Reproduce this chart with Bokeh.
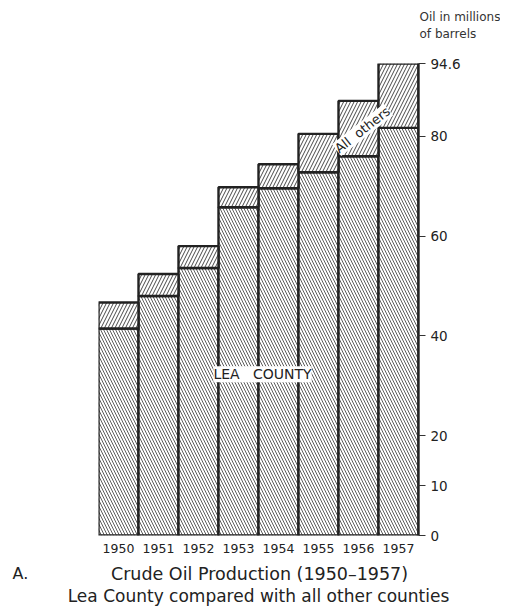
from bokeh.plotting import figure
from bokeh.models import Range1d, LinearAxis, FixedTicker, Label, ColumnDataSource
from bokeh.layouts import column
from bokeh.embed import file_html
from bokeh.resources import INLINE

years = ["1950", "1951", "1952", "1953", "1954", "1955", "1956", "1957"]
lea_county = [41.5, 48.0, 53.6, 65.8, 69.6, 72.8, 76.0, 81.7]
total = [46.7, 52.4, 58.0, 69.8, 74.4, 80.5, 87.1, 94.6]
all_others = [t - l for t, l in zip(total, lea_county)]
y_ticks = [0, 10, 20, 40, 60, 80, 94.6]
y_tick_labels = {0: "0", 10: "10", 20: "20", 40: "40", 60: "60", 80: "80", 94.6: "94.6"}

FONT = "DejaVu Sans"
INK = "#222222"
W = 500
idx = list(range(len(years)))


def no_align(f):
    if "frame_align" in f.properties():
        f.frame_align = False


def blank(h):
    f = figure(width=W, height=h, output_backend="svg", toolbar_location=None,
               x_range=Range1d(0, W), y_range=Range1d(h, 0),
               x_axis_type=None, y_axis_type=None, min_border=0)
    f.outline_line_color = None
    f.grid.visible = False
    no_align(f)
    return f


# ---- top: unit note ----
top = blank(55)
top.add_layout(Label(x=419, y=16, text="Oil in millions", text_align="left", text_baseline="middle",
                     text_font=FONT, text_font_size="12px", text_color="#333333"))
top.add_layout(Label(x=419, y=33, text="of barrels", text_align="left", text_baseline="middle",
                     text_font=FONT, text_font_size="12px", text_color="#333333"))

# ---- main chart ----
src = ColumnDataSource(dict(x=idx, lea=lea_county, total=total, others=all_others))

p = figure(width=W, height=505, output_backend="svg", toolbar_location=None,
           x_range=Range1d(-0.5, 7.5), y_range=Range1d(0, 94.6),
           min_border_left=98, min_border_right=82, min_border_top=8, min_border_bottom=25)
p.outline_line_color = None
p.grid.visible = False
p.yaxis.visible = False
no_align(p)

p.vbar(x="x", top="lea", bottom=0, width=1.0, source=src,
       fill_color="white", line_color=INK, line_width=2.4,
       hatch_pattern="left_diagonal_line", hatch_color="#333333", hatch_scale=6, hatch_weight=0.8)
p.vbar(x="x", top="total", bottom="lea", width=1.0, source=src,
       fill_color="white", line_color=INK, line_width=2.4,
       hatch_pattern="right_diagonal_line", hatch_color="#333333", hatch_scale=7, hatch_weight=0.9)

xa = p.xaxis[0]
xa.ticker = FixedTicker(ticks=idx)
xa.major_label_overrides = {i: y for i, y in zip(idx, years)}
xa.axis_line_color = None
xa.major_tick_line_color = None
xa.minor_tick_line_color = None
xa.major_label_standoff = 2
xa.major_label_text_font = FONT
xa.major_label_text_font_size = "12.5px"
xa.major_label_text_color = INK

ya = LinearAxis(ticker=FixedTicker(ticks=y_ticks), bounds=(0, 94.6))
ya.major_label_overrides = y_tick_labels
ya.axis_line_color = INK
ya.axis_line_width = 2.4
ya.major_tick_in = 0
ya.major_tick_out = 7
ya.major_tick_line_color = "#333333"
ya.minor_tick_line_color = None
ya.major_label_standoff = 5
ya.major_label_text_font = FONT
ya.major_label_text_font_size = "13.5px"
ya.major_label_text_color = INK
p.add_layout(ya, "right")

p.add_layout(Label(x=3.6, y=32.3, text="LEA\u00a0\u00a0\u00a0COUNTY", text_align="center", text_baseline="middle",
                   text_font=FONT, text_font_size="14px", text_color=INK,
                   background_fill_color="white", border_line_color=None))
p.add_layout(Label(x=6.1, y=81.3, text="All\u00a0\u00a0others", text_align="center", text_baseline="middle",
                   angle=38, angle_units="deg",
                   text_font=FONT, text_font_size="13px", text_color=INK,
                   background_fill_color="white", border_line_color=None))

# ---- bottom: captions ----
bot = blank(47)
bot.add_layout(Label(x=12, y=13, text="A.", text_align="left", text_baseline="middle",
                     text_font=FONT, text_font_size="16px", text_color=INK))
bot.add_layout(Label(x=259, y=13, text="Crude Oil Production (1950\u20131957)", text_align="center",
                     text_baseline="middle", text_font=FONT, text_font_size="17.5px", text_color=INK))
bot.add_layout(Label(x=258, y=35, text="Lea County compared with all other counties", text_align="center",
                     text_baseline="middle", text_font=FONT, text_font_size="17px", text_color=INK))

layout = column(top, p, bot, spacing=0)
open("out.html", "w").write(file_html(layout, INLINE))
